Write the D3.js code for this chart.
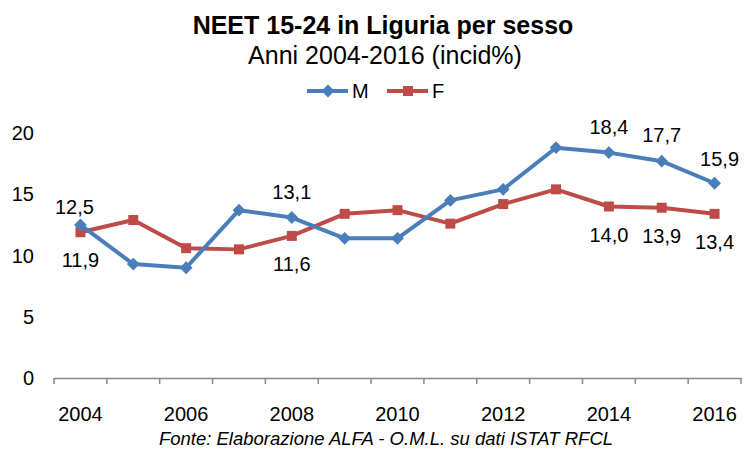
<!doctype html>
<html>
<body>
<style type="text/css">
    html,body{
        margin: 0;
        overflow: hidden;
        background: #fff;
    }
    text {
        font-family: "Liberation Sans", Arial, sans-serif;
        fill: #000;
    }
</style>
<script src="https://cdn.jsdelivr.net/npm/d3@7/dist/d3.min.js"></script>
<script type="text/javascript">
// data
var years = [2004,2005,2006,2007,2008,2009,2010,2011,2012,2013,2014,2015,2016];
var maschi = [12.5,9.3,9.0,13.7,13.1,11.4,11.4,14.5,15.4,18.8,18.4,17.7,15.9];
var femmine = [11.9,12.9,10.6,10.5,11.6,13.4,13.7,12.6,14.2,15.4,14.0,13.9,13.4];
var yTicks = [0,5,10,15,20];
var xLabelYears = [2004,2006,2008,2010,2012,2014,2016];
// which points get a value label
var labelled = [2004,2008,2014,2015,2016];

(function(){
    var w = 746, h = 452,
        left = 54, right = 741,
        top = 133, bottom = 378;

    var svg = d3.select("body").append("svg")
        .attr("width", w)
        .attr("height", h);

    var x = d3.scaleBand().domain(years).range([left, right]);
    var y = d3.scaleLinear().domain([0,20]).range([bottom, top]);
    var cx = function(d){ return x(d) + x.bandwidth()/2; };

    var diamond = d3.symbol().type(d3.symbolDiamond2).size(105),
        square = d3.symbol().type(d3.symbolSquare).size(100);

    // titles
    svg.append("text")
        .attr("x", 383).attr("y", 34)
        .attr("text-anchor","middle")
        .style("font-weight","bold").style("font-size","25px")
        .text("NEET 15-24 in Liguria per sesso");
    svg.append("text")
        .attr("x", 385).attr("y", 64)
        .attr("text-anchor","middle")
        .style("font-size","25px")
        .text("Anni 2004-2016 (incid%)");

    // y axis labels (no line)
    svg.selectAll("text.ytick").data(yTicks).enter().append("text")
        .attr("class","ytick")
        .attr("x", 34)
        .attr("y", function(d){ return y(d) + 7; })
        .attr("text-anchor","end")
        .style("font-size","20px")
        .text(function(d){ return d; });

    // x axis
    var xAxis = d3.axisBottom(x).tickSize(0).tickFormat("");
    var gx = svg.append("g").attr("transform","translate(0," + bottom + ")").call(xAxis);
    gx.select(".domain").attr("stroke","#888").attr("stroke-width",1.5);
    var bounds = years.map(function(d){ return x(d); }).concat([right]);
    gx.selectAll("line.sep").data(bounds).enter().append("line")
        .attr("class","sep")
        .attr("x1", function(d){ return d; }).attr("x2", function(d){ return d; })
        .attr("y1", 0).attr("y2", 6)
        .attr("stroke","#888").attr("stroke-width",1.5);
    svg.selectAll("text.xtick").data(xLabelYears).enter().append("text")
        .attr("class","xtick")
        .attr("x", cx)
        .attr("y", 421)
        .attr("text-anchor","middle")
        .style("font-size","20px")
        .text(function(d){ return d; });

    // footer
    svg.append("text")
        .attr("x", 386).attr("y", 445)
        .attr("text-anchor","middle")
        .style("font-style","italic").style("font-size","18.5px")
        .text("Fonte: Elaborazione ALFA - O.M.L. su dati ISTAT RFCL");

    var series = [
        {name:"M", values: maschi, color:"#4a7ebb", sym: diamond, labelDy:-19},
        {name:"F", values: femmine, color:"#be4b48", sym: square, labelDy:35}
    ];

    var line = d3.line()
        .x(function(d,i){ return cx(years[i]); })
        .y(function(d){ return y(d); });

    // draw F first so M sits on top
    series.slice().reverse().forEach(function(s){
        svg.append("path")
            .datum(s.values)
            .attr("d", line)
            .attr("fill","none")
            .attr("stroke", s.color)
            .attr("stroke-width", 4)
            .attr("stroke-linejoin","round");
        svg.selectAll(null).data(s.values).enter().append("path")
            .attr("d", s.sym)
            .attr("transform", function(d,i){
                return "translate(" + cx(years[i]) + "," + y(d) + ")";
            })
            .attr("fill", s.color);
    });

    // value labels (a couple nudged like in the original)
    series.forEach(function(s){
        var pts = years.map(function(yr,i){ return {yr:yr, v:s.values[i]}; })
            .filter(function(p){ return labelled.indexOf(p.yr) >= 0; });
        svg.selectAll(null).data(pts).enter().append("text")
            .attr("x", function(p){
                if (s.name == "M" && p.yr == 2016) return cx(p.yr) + 5;
                if (s.name == "M" && p.yr == 2004) return cx(p.yr) - 6;
                return cx(p.yr);
            })
            .attr("y", function(p){
                var dy = s.labelDy;
                if (s.name == "M" && p.yr == 2004) dy = -11;
                if (s.name == "M" && p.yr == 2016) dy = -17;
                return y(p.v) + dy;
            })
            .attr("text-anchor","middle")
            .style("font-size","20px")
            .text(function(p){ return d3.format(".1f")(p.v).replace(".", ","); });
    });

    // legend
    var legend = [
        {name:"M", color:"#4a7ebb", sym: diamond, x:307},
        {name:"F", color:"#be4b48", sym: square, x:387}
    ];
    legend.forEach(function(l){
        var g = svg.append("g").attr("transform","translate(" + l.x + ",91)");
        g.append("line").attr("x1",0).attr("x2",41).attr("stroke",l.color).attr("stroke-width",4);
        g.append("path").attr("d", l.sym)
            .attr("transform","translate(21,0)")
            .attr("fill", l.color);
        g.append("text").attr("x", 45).attr("y", 7)
            .style("font-size","20px")
            .text(l.name);
    });
})();
</script>
</body>
</html>
